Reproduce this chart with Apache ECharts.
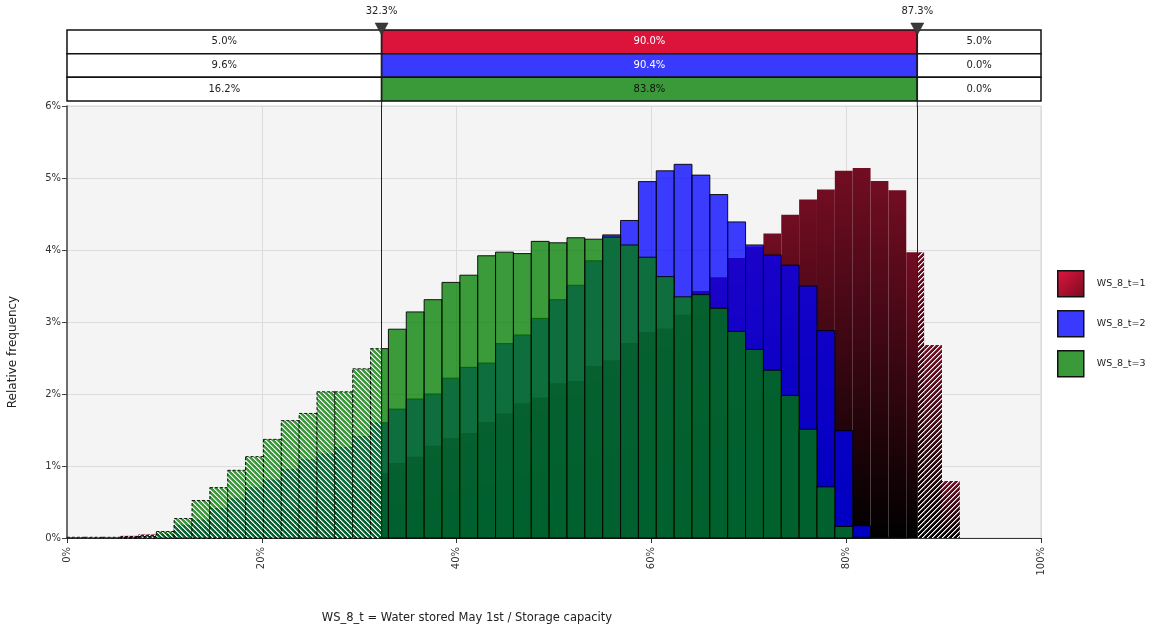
<!DOCTYPE html>
<html>
<head>
<meta charset="utf-8">
<script src="https://cdn.jsdelivr.net/npm/echarts@6/dist/echarts.min.js"></script>
<style>
  html, body { margin: 0; padding: 0; background: #ffffff; }
  #chart { width: 1149px; height: 630px; }
</style>
</head>
<body>
<div id="chart"></div>
<script>
// Histogram layout: equal-width bins over the simulated range (in %)
const binLow = 0;
const binHigh = 91.6667;
const binCount = 50;

const seriesNames = ['WS_8_t=1', 'WS_8_t=2', 'WS_8_t=3'];

// Relative frequency (%) per bin
const freqT1 = [
  0, 0, 0, 0.03, 0.05, 0.08, 0.12, 0.16, 0.20, 0.25,
  0.30, 0.35, 0.41, 0.47, 0.54, 0.62, 0.72, 0.90, 1.04, 1.13,
  1.28, 1.39, 1.46, 1.61, 1.73, 1.87, 1.95, 2.15, 2.18, 2.39,
  2.47, 2.71, 2.86, 2.91, 3.10, 3.43, 3.62, 3.89, 4.05, 4.23,
  4.49, 4.70, 4.84, 5.10, 5.14, 4.96, 4.83, 3.97, 2.68, 0.79
];
const freqT2 = [
  0, 0, 0, 0.01, 0.02, 0.05, 0.18, 0.25, 0.41, 0.55,
  0.70, 0.81, 0.95, 1.09, 1.17, 1.26, 1.41, 1.60, 1.79, 1.93,
  2.00, 2.22, 2.37, 2.43, 2.70, 2.82, 3.05, 3.31, 3.51, 3.85,
  4.21, 4.41, 4.95, 5.10, 5.19, 5.04, 4.77, 4.39, 4.07, 3.93,
  3.79, 3.50, 2.88, 1.49, 0.17, 0, 0, 0, 0, 0
];
const freqT3 = [
  0.01, 0.01, 0.01, 0.01, 0.02, 0.09, 0.27, 0.52, 0.70, 0.94,
  1.13, 1.37, 1.63, 1.73, 2.03, 2.03, 2.35, 2.63, 2.90, 3.14,
  3.31, 3.55, 3.65, 3.92, 3.97, 3.95, 4.12, 4.10, 4.17, 4.15,
  4.18, 4.07, 3.90, 3.63, 3.35, 3.38, 3.19, 2.87, 2.62, 2.33,
  1.98, 1.51, 0.71, 0.16, 0.01, 0.01, 0.01, 0, 0, 0
];

// Delimiters and the probability of each band (left / between / right)
const delimiters = [32.3, 87.3];
const bandT1 = [5.0, 90.0, 5.0];
const bandT2 = [9.6, 90.4, 0.0];
const bandT3 = [16.2, 83.8, 0.0];

const xAxisTitle = 'WS_8_t = Water stored May 1st / Storage capacity';
const yAxisTitle = 'Relative frequency';

const FONT = '"DejaVu Sans", Verdana, sans-serif';

// White diagonal hatching tile; '\\' runs top-left to bottom-right, '/' the other way
function hatchPattern(dir) {
  const s = 5;
  const c = document.createElement('canvas');
  c.width = s; c.height = s;
  const ctx = c.getContext('2d');
  const img = ctx.createImageData(s, s);
  const set = (x, y, a) => {
    const k = (y * s + x) * 4;
    img.data[k] = 255; img.data[k + 1] = 255; img.data[k + 2] = 255; img.data[k + 3] = a;
  };
  for (let i = 0; i < s; i++) {
    const x = dir === '\\' ? i : s - 1 - i;
    set(x, i, 255);
    set((x + 1) % s, i, 130);
  }
  ctx.putImageData(img, 0, 0);
  return { image: c, repeat: 'repeat' };
}

const binWidth = (binHigh - binLow) / binCount;
function toBins(freq) {
  return freq.map((v, i) => [binLow + i * binWidth, binLow + (i + 1) * binWidth, v]);
}

const redGradient = () => new echarts.graphic.LinearGradient(0, 0, 0, 1, [
  { offset: 0, color: '#720d22' },
  { offset: 1, color: '#000000' }
]);

const histStyles = [
  { fill: redGradient, hatch: hatchPattern('/'), border: null },
  { fill: () => 'rgba(0, 0, 255, 0.76)', hatch: hatchPattern('\\'), border: 'rgba(0,0,0,0.9)' },
  { fill: () => 'rgba(0, 126, 0, 0.76)', hatch: hatchPattern('\\'), border: 'rgba(0,0,0,0.9)' }
];

// Each bin is split at the delimiters; parts outside them get hatched
function histRenderer(st) {
  return function (params, api) {
    const x0 = api.value(0), x1 = api.value(1), v = api.value(2);
    if (!(v > 0)) return { type: 'group', children: [] };
    const lo = delimiters[0], hi = delimiters[1];
    const cuts = [x0];
    if (lo > x0 && lo < x1) cuts.push(lo);
    if (hi > x0 && hi < x1) cuts.push(hi);
    cuts.push(x1);
    const children = [];
    for (let i = 0; i < cuts.length - 1; i++) {
      const a = cuts[i], b = cuts[i + 1];
      const mid = (a + b) / 2;
      const outside = mid < lo || mid > hi;
      const pTop = api.coord([a, v]);
      const pBot = api.coord([b, 0]);
      const shape = { x: pTop[0], y: pTop[1], width: pBot[0] - pTop[0], height: pBot[1] - pTop[1] };
      children.push({ type: 'rect', shape: shape, style: { fill: st.fill() } });
      if (outside) {
        children.push({ type: 'rect', shape: shape, style: { fill: st.hatch } });
      }
      if (st.border) {
        children.push({
          type: 'rect', shape: shape,
          style: { fill: null, stroke: st.border, lineWidth: 1, lineDash: outside ? [3, 2] : null }
        });
      }
    }
    return { type: 'group', children: children };
  };
}

const bandColors = ['#dc143c', '#3a3aff', '#3a9a3a'];
const bandMidText = ['#ffffff', '#ffffff', '#111111'];
const bandRows = [bandT1, bandT2, bandT3].map((b, i) => [i, b[0], b[1], b[2]]);

function bandRenderer(params, api) {
  const row = api.value(0);
  const center = api.coord([0, row]);
  const h = api.size([0, 1])[1];
  const yTop = center[1] - h / 2;
  const edges = [0, delimiters[0], delimiters[1], 100];
  const children = [];
  for (let k = 0; k < 3; k++) {
    const xa = api.coord([edges[k], row])[0];
    const xb = api.coord([edges[k + 1], row])[0];
    const fill = k === 1 ? bandColors[row] : '#ffffff';
    children.push({
      type: 'rect',
      shape: { x: xa, y: yTop, width: xb - xa, height: h },
      style: { fill: fill, stroke: '#111111', lineWidth: 1.5 }
    });
    children.push({
      type: 'text',
      x: (xa + xb) / 2, y: yTop + h / 2,
      style: {
        text: api.value(1 + k).toFixed(1) + '%',
        fill: k === 1 ? bandMidText[row] : '#222222',
        font: '10px ' + FONT, align: 'center', verticalAlign: 'middle'
      }
    });
  }
  return { type: 'group', children: children };
}

function delimiterRenderer(params, api) {
  const v = api.value(0);
  const x = api.coord([v, 0])[0];
  const cs = params.coordSys;
  return {
    type: 'group',
    children: [
      { type: 'line', shape: { x1: x, y1: cs.y, x2: x, y2: cs.y + cs.height + 6 },
        style: { stroke: '#222222', lineWidth: 1 } },
      { type: 'polygon', shape: { points: [[x - 6.5, cs.y - 7], [x + 6.5, cs.y - 7], [x, cs.y + 5]] },
        style: { fill: '#3a3a3a', stroke: '#222222', lineWidth: 0.5 } },
      { type: 'text', x: x, y: cs.y - 19,
        style: { text: v.toFixed(1) + '%', fill: '#222222', font: '10px ' + FONT,
                 align: 'center', verticalAlign: 'middle' } }
    ]
  };
}

const freqs = [freqT1, freqT2, freqT3];
const histSeries = freqs.map((f, i) => {
  const s = {
    name: seriesNames[i],
    type: 'custom',
    xAxisIndex: 0, yAxisIndex: 0,
    renderItem: histRenderer(histStyles[i]),
    encode: { x: [0, 1], y: 2 },
    data: toBins(f),
    itemStyle: { color: bandColors[i] },
    silent: true
  };
  if (i === 2) {
    s.markLine = {
      silent: true, symbol: 'none', animation: false,
      label: { show: false },
      lineStyle: { color: '#222222', width: 1, type: 'solid' },
      data: delimiters.map(d => ({ xAxis: d }))
    };
  }
  return s;
});

const legendGradient = new echarts.graphic.LinearGradient(0, 0, 1, 1, [
  { offset: 0, color: '#e0163f' },
  { offset: 1, color: '#7a0a20' }
]);

const option = {
  animation: false,
  backgroundColor: '#ffffff',
  grid: [
    { left: 67, right: 108, top: 106, bottom: 92, show: true,
      backgroundColor: '#f4f4f4', borderColor: '#d4d4d4', borderWidth: 1 },
    { left: 67, right: 108, top: 30, height: 71, show: false }
  ],
  xAxis: [
    { gridIndex: 0, type: 'value', min: 0, max: 100, interval: 20,
      axisLine: { show: true, onZero: false, lineStyle: { color: '#333333', width: 1 } },
      axisTick: { show: true, length: 5, lineStyle: { color: '#333333' } },
      axisLabel: { rotate: 90, margin: 9, color: '#333333', fontSize: 10, fontFamily: FONT,
                   formatter: '{value}%', padding: [0, 0, 0, 0], lineHeight: 16 },
      splitLine: { show: true, lineStyle: { color: '#dcdcdc', width: 1 } } },
    { gridIndex: 1, type: 'value', min: 0, max: 100, show: false }
  ],
  yAxis: [
    { gridIndex: 0, type: 'value', min: 0, max: 6, interval: 1,
      axisLine: { show: true, lineStyle: { color: '#444444', width: 1.5 } },
      axisTick: { show: true, length: 5, lineStyle: { color: '#444444' } },
      axisLabel: { color: '#333333', fontSize: 10, fontFamily: FONT, margin: 6,
                   formatter: '{value}%' },
      splitLine: { show: true, lineStyle: { color: '#dcdcdc', width: 1 } } },
    { gridIndex: 1, type: 'category', data: ['1', '2', '3'], inverse: true, show: false }
  ],
  legend: {
    orient: 'vertical', left: 1052, top: 265,
    itemWidth: 26, itemHeight: 26, itemGap: 12.5, icon: 'rect',
    selectedMode: false,
    textStyle: { fontSize: 9.5, fontFamily: FONT, color: '#222222', padding: [0, 0, 0, 8] },
    data: [
      { name: seriesNames[0], itemStyle: { color: legendGradient, borderColor: '#111111', borderWidth: 1.5 } },
      { name: seriesNames[1], itemStyle: { color: '#3a3aff', borderColor: '#111111', borderWidth: 1.5 } },
      { name: seriesNames[2], itemStyle: { color: '#3a9a3a', borderColor: '#111111', borderWidth: 1.5 } }
    ]
  },
  graphic: [
    { type: 'text', x: 13, y: 352, rotation: Math.PI / 2,
      style: { text: yAxisTitle, font: '12px ' + FONT, fill: '#222222',
               align: 'center', verticalAlign: 'middle' } },
    { type: 'text', x: 467, y: 618,
      style: { text: xAxisTitle, font: '11.5px ' + FONT, fill: '#222222',
               align: 'center', verticalAlign: 'middle' } }
  ],
  series: histSeries.concat([
    { type: 'custom', name: 'bands', xAxisIndex: 1, yAxisIndex: 1,
      renderItem: bandRenderer, encode: { x: [1, 2, 3], y: 0 }, data: bandRows, silent: true, z: 5 },
    { type: 'custom', name: 'delims', xAxisIndex: 1, yAxisIndex: 1,
      renderItem: delimiterRenderer, encode: { x: 0 }, data: delimiters.map(d => [d]), silent: true, z: 6 }
  ])
};

const chart = echarts.init(document.getElementById('chart'), null, { renderer: 'canvas' });
chart.setOption(option);
</script>
</body>
</html>
